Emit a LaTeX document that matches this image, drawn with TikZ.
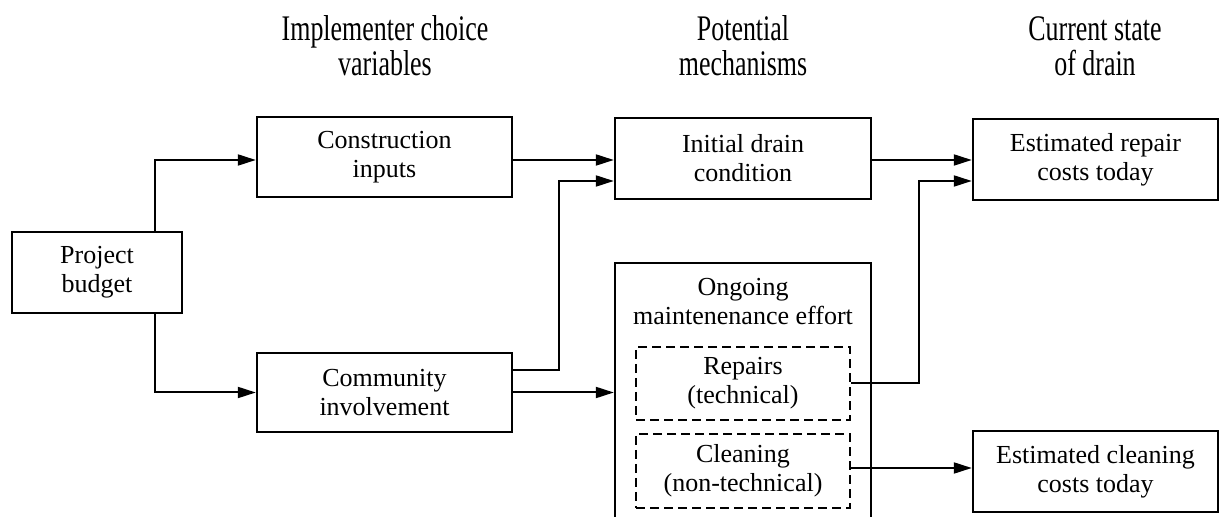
\documentclass[tikz,border=0pt]{standalone}
\usepackage{fontspec}
\setmainfont{Liberation Serif}
\newfontfamily\headfont[FakeStretch=0.72]{Liberation Serif}
\usetikzlibrary{arrows.meta,calc}
\begin{document}
\begin{tikzpicture}[x=0.5pt,y=-0.5pt,
  box/.style={draw, line width=1.2pt, rectangle, inner sep=0pt, align=center,
    font=\fontsize{13}{14.5}\selectfont},
  dbox/.style={box, dash pattern=on 4.5pt off 2.5pt},
  txt/.style={inner sep=0pt, align=center, font=\fontsize{13}{14.5}\selectfont},
  head/.style={inner sep=0pt, align=center, font=\headfont\fontsize{18}{17.5}\selectfont},
  arr/.style={line width=1pt, -{Triangle[length=9pt,width=5.5pt]}},
  ]
\useasboundingbox (0,0) rectangle (1220,517);
\clip (0,0) rectangle (1220,517);

% headers
\node[head] (h1) at (385,46) {Implementer choice\\variables};
\node[head] (h2) at (743,46) {Potential\\mechanisms};
\node[head] (h3) at (1095,46) {Current state\\of drain};

% boxes
\node[box, minimum width=85pt, minimum height=40.5pt] (budget) at (97,272.5) {Project\\budget};
\node[box, minimum width=127.5pt, minimum height=40pt] (cons) at (384.5,157) {Construction\\inputs};
\node[box, minimum width=127.5pt, minimum height=39.5pt] (comm) at (384.5,392.5) {Community\\involvement};
\node[box, minimum width=128pt, minimum height=40.5pt] (init) at (743,158.5) {Initial drain\\condition};
\node[box, minimum width=128pt, minimum height=148.5pt] (ong) at (743,411.5) {};
\node[txt] (ongt) at (743,302) {Ongoing\\maintenenance effort};
\node[dbox, minimum width=107pt, minimum height=36.5pt] (rep) at (743,383.5) {Repairs\\(technical)};
\node[dbox, minimum width=107pt, minimum height=37pt] (cln) at (743,471) {Cleaning\\(non-technical)};
\node[box, minimum width=122.5pt, minimum height=40.5pt] (erep) at (1095.5,159.5) {Estimated repair\\costs today};
\node[box, minimum width=122.5pt, minimum height=40.5pt] (ecln) at (1095.5,471.5) {Estimated cleaning\\costs today};

% connectors
\draw[arr] ([xshift=29pt]budget.north) |- ([yshift=-1.5pt]cons.west);
\draw[arr] ([xshift=29pt]budget.south) |- (comm.west);
\coordinate (a1) at ([yshift=-1.5pt]cons.east);
\draw[arr] (a1) -- (a1 -| init.west);
\draw[arr] ([yshift=11.25pt]comm.east) -- ++(23pt,0) |- ([yshift=-11.25pt]init.west);
\draw[arr] (comm.east) -- (comm.east -| ong.west);
\coordinate (a2) at ([yshift=-0.75pt]init.east);
\draw[arr] (a2) -- (a2 -| erep.west);
\draw[arr] (rep.east) -- ++(34pt,0) |- ([yshift=-10.75pt]erep.west);
\coordinate (a3) at ([yshift=1.5pt]cln.east);
\draw[arr] (a3) -- (a3 -| ecln.west);
\end{tikzpicture}
\end{document}
